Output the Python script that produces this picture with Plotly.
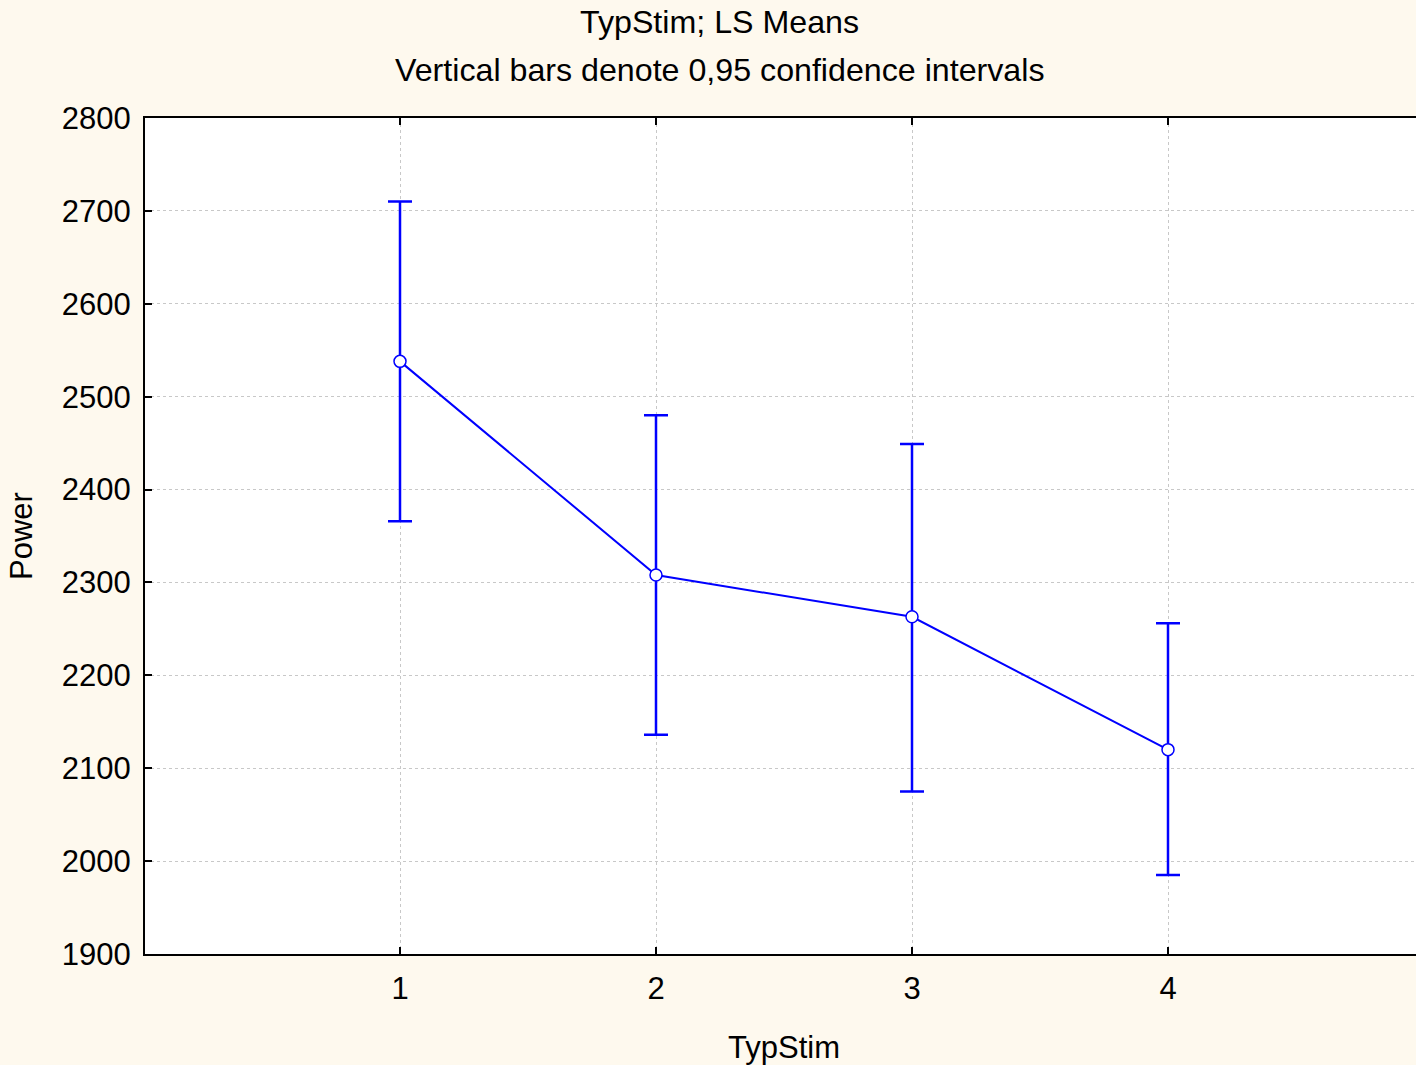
import plotly.graph_objects as go

categories = [1, 2, 3, 4]
means = [2538, 2308, 2263, 2120]
ci_upper = [2710, 2480, 2449, 2256]
ci_lower = [2366, 2136, 2075, 1985]
y_ticks = [1900, 2000, 2100, 2200, 2300, 2400, 2500, 2600, 2700, 2800]

err_plus = [u - m for u, m in zip(ci_upper, means)]
err_minus = [m - l for m, l in zip(means, ci_lower)]

FONT = "Arial, Liberation Sans, sans-serif"
BLUE = "#0000FF"

fig = go.Figure()
fig.add_trace(go.Scatter(
    x=categories, y=means, mode="lines+markers",
    line=dict(color=BLUE, width=2),
    marker=dict(size=12, color="white", line=dict(color=BLUE, width=1.5)),
    error_y=dict(type="data", symmetric=False, array=err_plus, arrayminus=err_minus,
                 color=BLUE, thickness=2.5, width=12),
    showlegend=False,
))

fig.update_layout(
    width=1416, height=1065,
    margin=dict(l=145, r=0, t=118, b=111),
    paper_bgcolor="#FEF9EE",
    plot_bgcolor="white",
    font=dict(family=FONT, size=31, color="black"),
    annotations=[
        dict(text="TypStim; LS Means", xref="paper", yref="paper",
             x=(719 - 145) / 1271, y=(954 - 22) / 836, xanchor="center", yanchor="middle",
             showarrow=False, font=dict(family=FONT, size=32.2, color="black")),
        dict(text="Vertical bars denote 0,95 confidence intervals", xref="paper", yref="paper",
             x=(720 - 145) / 1271, y=(954 - 70) / 836, xanchor="center", yanchor="middle",
             showarrow=False, font=dict(family=FONT, size=32.2, color="black")),
        dict(text="TypStim", xref="paper", yref="paper",
             x=(784 - 145) / 1271, y=(954 - 1047) / 836, xanchor="center", yanchor="middle",
             showarrow=False, font=dict(family=FONT, size=31, color="black")),
    ],
)

fig.update_xaxes(
    range=[0.0039, 0.0039 + 1271 / 256],
    tickvals=categories, ticktext=[str(c) for c in categories],
    showline=True, linecolor="black", linewidth=2, mirror="ticks",
    ticks="inside", ticklen=7, tickwidth=2, tickcolor="black",
    showgrid=True, gridcolor="#C8C8C8", gridwidth=1, griddash="3px,3px",
    zeroline=False, ticklabelstandoff=6,
)
fig.update_yaxes(
    range=[1900, 2800],
    tickvals=y_ticks,
    showline=True, linecolor="black", linewidth=2, mirror=False,
    ticks="inside", ticklen=7, tickwidth=2, tickcolor="black",
    showgrid=True, gridcolor="#C8C8C8", gridwidth=1, griddash="3px,3px",
    zeroline=False, ticklabelstandoff=6,
    title=dict(text="Power", standoff=20, font=dict(family=FONT, size=31)),
)

fig.write_html("out.html", config={"displayModeBar": False},
               post_script="document.body.style.margin='0';")
